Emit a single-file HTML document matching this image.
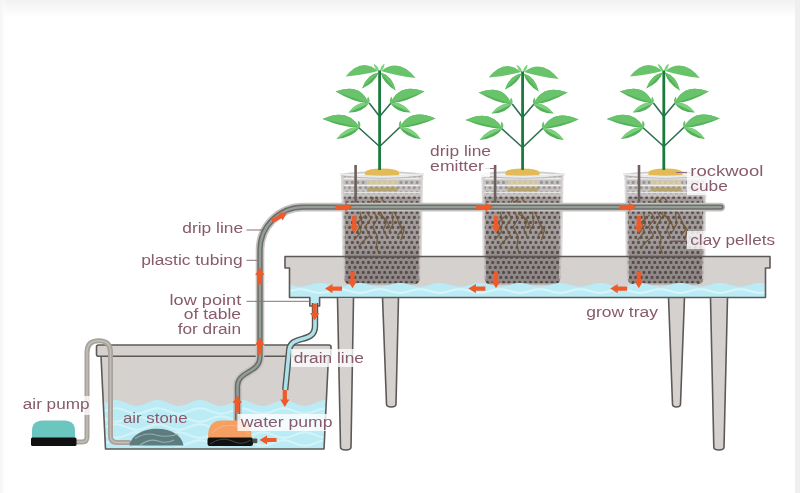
<!DOCTYPE html><html><head><meta charset="utf-8"><style>html,body{margin:0;padding:0;background:#fff;}svg{display:block;filter:blur(0.35px);}text{font-family:"Liberation Sans",sans-serif;font-size:15.5px;fill:#885a6d;}</style></head><body>
<svg width="800" height="493" viewBox="0 0 800 493">
<defs>
<linearGradient id="topg" x1="0" y1="0" x2="0" y2="1"><stop offset="0" stop-color="#f1f1f1"/><stop offset="1" stop-color="#ffffff"/></linearGradient>
<linearGradient id="leftg" x1="0" y1="0" x2="1" y2="0"><stop offset="0" stop-color="#f4f4f4"/><stop offset="1" stop-color="#ffffff" stop-opacity="0"/></linearGradient>
<pattern id="dots" x="0" y="0" width="5.4" height="10" patternUnits="userSpaceOnUse"><circle cx="1.3" cy="2.4" r="1.55" fill="#585050"/><circle cx="4.0" cy="7.4" r="1.55" fill="#585050"/></pattern>
<clipPath id="resclip"><path d="M101 356 L328.5 356 L324 449 L105.5 449 Z"/></clipPath>
<clipPath id="trayclip"><path d="M285 256.5 L770 256.5 L770 268 L765.5 268 L765.5 297.5 L289.5 297.5 L289.5 268 L285 268 Z"/></clipPath>
<linearGradient id="potshade" x1="0" y1="0" x2="0" y2="1"><stop offset="0" stop-color="#2a1e1c" stop-opacity="0"/><stop offset="0.4" stop-color="#2a1e1c" stop-opacity="0.12"/><stop offset="1" stop-color="#2a1e1c" stop-opacity="0.16"/></linearGradient>
</defs>
<rect x="0" y="0" width="800" height="493" fill="#fff"/>
<rect x="0" y="0" width="800" height="17" fill="url(#topg)"/>
<rect x="0" y="0" width="8" height="493" fill="url(#leftg)"/>
<rect x="795" y="0" width="5" height="493" fill="#efefef"/>
<path d="M382.5 297 L386.5 404 Q386.5 407 391.25 407 Q396 407 396 404 L398.5 297" fill="#d5d1ce" stroke="#5e5957" stroke-width="1.6"/>
<path d="M668.5 297 L672.5 404 Q672.5 407 676.5 407 Q680.5 407 680.5 404 L684.5 297" fill="#d5d1ce" stroke="#5e5957" stroke-width="1.6"/>
<path d="M285 256.5 L770 256.5 L770 268 L765.5 268 L765.5 297.5 L319.6 297.5 L319.6 306 L309.8 306 L309.8 297.5 L289.5 297.5 L289.5 268 L285 268 Z" fill="#d5d1ce"/>
<path d="M342.5 175 L421.5 175 L420 278 Q419.5 284.5 413 284.5 L351 284.5 Q344.5 284.5 344 278 Z" fill="#a29b99"/><path d="M342.5 175 L421.5 175 L420 278 Q419.5 284.5 413 284.5 L351 284.5 Q344.5 284.5 344 278 Z" fill="url(#dots)"/><path d="M344 240 L420 240 L420 278 Q419.5 284.5 413 284.5 L351 284.5 Q344.5 284.5 344 278 Z" fill="url(#potshade)"/><path d="M341 175 L423 175 L422 197 L342 197 Z" fill="#ffffff" opacity="0.38"/><rect x="367" y="180.5" width="31" height="5" fill="#d9cfa5" opacity="0.8"/><rect x="367" y="187.5" width="31" height="4" rx="1.5" fill="#b39f62" opacity="0.85"/><path d="M340.5 178.5 L423.5 178.5" stroke="#ececec" stroke-width="1.8"/><path d="M341 185.5 L423 185.5" stroke="#eeeeee" stroke-width="1.5"/><path d="M341.5 192.5 L422.5 192.5" stroke="#e6e6e6" stroke-width="1.3"/><path d="M343 256.8 L421 256.8" stroke="#4a4240" stroke-width="1.6"/><g stroke="#6e5535" stroke-width="1.35" fill="none" stroke-linejoin="round" opacity="0.85"><path d="M373.4 197.1 L366.3 211.3 L371.3 218.4 L364.9 226.9 L369.9 235.5 L362 242.6 L358.5 246.8"/><path d="M377.7 198.5 L373.4 211.3 L377.7 218.4 L372.7 226.9 L377.7 236.9 L376.3 246.8 L379.1 253.5"/><path d="M380.5 197.1 L387.6 207 L394.7 212.7 L399 222.7 L401.8 229.8 L397.6 235.5"/><path d="M382 204.2 L380.5 212.7 L386.2 222.7 L383.4 229.8 L387.6 238.3"/><path d="M369 202 L360 212 L362 224 L356 233"/><path d="M392 212 L393 224 L389 232"/><path d="M375 200 L382 206 L378 214 L386 219 L390 228"/><path d="M366 215 L358 222 L361 232 L354 240"/><path d="M398 222 L404 230 L401 240"/></g><path d="M342.5 176 L344 279" stroke="#d2cecd" stroke-width="3" opacity="0.75"/><path d="M421.5 176 L420 279" stroke="#d2cecd" stroke-width="3" opacity="0.75"/><path d="M350 284 L414 284" stroke="#c9c5c4" stroke-width="2" opacity="0.6"/><path d="M340 174.3 Q382.0 169.2 424 174.3" stroke="#cfcdcc" stroke-width="1.6" fill="#e4e3e3"/><path d="M365 176.5 L365 172 Q367 168.4 382 168.4 Q397 168.4 399 172 L399 176.5 Z" fill="#e2bb58"/><path d="M340 174.3 Q382.0 179.6 424 174.3" stroke="#ebebeb" stroke-width="2.6" fill="none"/><path d="M341 175.8 Q382.0 181 423 175.8" stroke="#b8b5b4" stroke-width="0.9" fill="none"/><rect x="354.3" y="165" width="2.6" height="42" fill="#6b605c"/>
<path d="M483.0 175 L562.0 175 L560.5 278 Q560.0 284.5 553.5 284.5 L491.5 284.5 Q485.0 284.5 484.5 278 Z" fill="#a29b99"/><path d="M483.0 175 L562.0 175 L560.5 278 Q560.0 284.5 553.5 284.5 L491.5 284.5 Q485.0 284.5 484.5 278 Z" fill="url(#dots)"/><path d="M484.5 240 L560.5 240 L560.5 278 Q560.0 284.5 553.5 284.5 L491.5 284.5 Q485.0 284.5 484.5 278 Z" fill="url(#potshade)"/><path d="M481.5 175 L563.5 175 L562.5 197 L482.5 197 Z" fill="#ffffff" opacity="0.38"/><rect x="507.5" y="180.5" width="31" height="5" fill="#d9cfa5" opacity="0.8"/><rect x="507.5" y="187.5" width="31" height="4" rx="1.5" fill="#b39f62" opacity="0.85"/><path d="M481.0 178.5 L564.0 178.5" stroke="#ececec" stroke-width="1.8"/><path d="M481.5 185.5 L563.5 185.5" stroke="#eeeeee" stroke-width="1.5"/><path d="M482.0 192.5 L563.0 192.5" stroke="#e6e6e6" stroke-width="1.3"/><path d="M483.5 256.8 L561.5 256.8" stroke="#4a4240" stroke-width="1.6"/><g stroke="#6e5535" stroke-width="1.35" fill="none" stroke-linejoin="round" opacity="0.85"><path d="M513.9 197.1 L506.8 211.3 L511.8 218.4 L505.4 226.9 L510.4 235.5 L502.5 242.6 L499 246.8"/><path d="M518.2 198.5 L513.9 211.3 L518.2 218.4 L513.2 226.9 L518.2 236.9 L516.8 246.8 L519.6 253.5"/><path d="M521 197.1 L528.1 207 L535.2 212.7 L539.5 222.7 L542.3 229.8 L538.1 235.5"/><path d="M522.5 204.2 L521 212.7 L526.7 222.7 L523.9 229.8 L528.1 238.3"/><path d="M509.5 202 L500.5 212 L502.5 224 L496.5 233"/><path d="M532.5 212 L533.5 224 L529.5 232"/><path d="M515.5 200 L522.5 206 L518.5 214 L526.5 219 L530.5 228"/><path d="M506.5 215 L498.5 222 L501.5 232 L494.5 240"/><path d="M538.5 222 L544.5 230 L541.5 240"/></g><path d="M483.0 176 L484.5 279" stroke="#d2cecd" stroke-width="3" opacity="0.75"/><path d="M562.0 176 L560.5 279" stroke="#d2cecd" stroke-width="3" opacity="0.75"/><path d="M490.5 284 L554.5 284" stroke="#c9c5c4" stroke-width="2" opacity="0.6"/><path d="M480.5 174.3 Q522.5 169.2 564.5 174.3" stroke="#cfcdcc" stroke-width="1.6" fill="#e4e3e3"/><path d="M505.5 176.5 L505.5 172 Q507.5 168.4 522.5 168.4 Q537.5 168.4 539.5 172 L539.5 176.5 Z" fill="#e2bb58"/><path d="M480.5 174.3 Q522.5 179.6 564.5 174.3" stroke="#ebebeb" stroke-width="2.6" fill="none"/><path d="M481.5 175.8 Q522.5 181 563.5 175.8" stroke="#b8b5b4" stroke-width="0.9" fill="none"/><rect x="493.8" y="165" width="2.6" height="42" fill="#6b605c"/>
<path d="M626.0 175 L705.0 175 L703.5 278 Q703.0 284.5 696.5 284.5 L634.5 284.5 Q628.0 284.5 627.5 278 Z" fill="#a29b99"/><path d="M626.0 175 L705.0 175 L703.5 278 Q703.0 284.5 696.5 284.5 L634.5 284.5 Q628.0 284.5 627.5 278 Z" fill="url(#dots)"/><path d="M627.5 240 L703.5 240 L703.5 278 Q703.0 284.5 696.5 284.5 L634.5 284.5 Q628.0 284.5 627.5 278 Z" fill="url(#potshade)"/><path d="M624.5 175 L706.5 175 L705.5 197 L625.5 197 Z" fill="#ffffff" opacity="0.38"/><rect x="650.5" y="180.5" width="31" height="5" fill="#d9cfa5" opacity="0.8"/><rect x="650.5" y="187.5" width="31" height="4" rx="1.5" fill="#b39f62" opacity="0.85"/><path d="M624.0 178.5 L707.0 178.5" stroke="#ececec" stroke-width="1.8"/><path d="M624.5 185.5 L706.5 185.5" stroke="#eeeeee" stroke-width="1.5"/><path d="M625.0 192.5 L706.0 192.5" stroke="#e6e6e6" stroke-width="1.3"/><path d="M626.5 256.8 L704.5 256.8" stroke="#4a4240" stroke-width="1.6"/><g stroke="#6e5535" stroke-width="1.35" fill="none" stroke-linejoin="round" opacity="0.85"><path d="M656.9 197.1 L649.8 211.3 L654.8 218.4 L648.4 226.9 L653.4 235.5 L645.5 242.6 L642 246.8"/><path d="M661.2 198.5 L656.9 211.3 L661.2 218.4 L656.2 226.9 L661.2 236.9 L659.8 246.8 L662.6 253.5"/><path d="M664 197.1 L671.1 207 L678.2 212.7 L682.5 222.7 L685.3 229.8 L681.1 235.5"/><path d="M665.5 204.2 L664 212.7 L669.7 222.7 L666.9 229.8 L671.1 238.3"/><path d="M652.5 202 L643.5 212 L645.5 224 L639.5 233"/><path d="M675.5 212 L676.5 224 L672.5 232"/><path d="M658.5 200 L665.5 206 L661.5 214 L669.5 219 L673.5 228"/><path d="M649.5 215 L641.5 222 L644.5 232 L637.5 240"/><path d="M681.5 222 L687.5 230 L684.5 240"/></g><path d="M626.0 176 L627.5 279" stroke="#d2cecd" stroke-width="3" opacity="0.75"/><path d="M705.0 176 L703.5 279" stroke="#d2cecd" stroke-width="3" opacity="0.75"/><path d="M633.5 284 L697.5 284" stroke="#c9c5c4" stroke-width="2" opacity="0.6"/><path d="M623.5 174.3 Q665.5 169.2 707.5 174.3" stroke="#cfcdcc" stroke-width="1.6" fill="#e4e3e3"/><path d="M648.5 176.5 L648.5 172 Q650.5 168.4 665.5 168.4 Q680.5 168.4 682.5 172 L682.5 176.5 Z" fill="#e2bb58"/><path d="M623.5 174.3 Q665.5 179.6 707.5 174.3" stroke="#ebebeb" stroke-width="2.6" fill="none"/><path d="M624.5 175.8 Q665.5 181 706.5 175.8" stroke="#b8b5b4" stroke-width="0.9" fill="none"/><rect x="637.7" y="165" width="2.6" height="42" fill="#6b605c"/>
<g clip-path="url(#trayclip)">
<path d="M285 283.53 L287 283.98 L288.99 284.52 L290.99 285.08 L292.98 285.61 L294.98 286.07 L296.98 286.4 L298.97 286.58 L300.97 286.58 L302.96 286.41 L304.96 286.08 L306.95 285.63 L308.95 285.1 L310.95 284.53 L312.94 284 L314.94 283.54 L316.93 283.2 L318.93 283.03 L320.93 283.02 L322.92 283.19 L324.92 283.51 L326.91 283.96 L328.91 284.49 L330.91 285.06 L332.9 285.59 L334.9 286.05 L336.89 286.39 L338.89 286.57 L340.88 286.58 L342.88 286.42 L344.88 286.1 L346.87 285.65 L348.87 285.12 L350.86 284.56 L352.86 284.02 L354.86 283.56 L356.85 283.22 L358.85 283.03 L360.84 283.02 L362.84 283.18 L364.84 283.49 L366.83 283.94 L368.83 284.47 L370.82 285.03 L372.82 285.57 L374.81 286.04 L376.81 286.38 L378.81 286.57 L380.8 286.59 L382.8 286.43 L384.79 286.11 L386.79 285.67 L388.79 285.14 L390.78 284.58 L392.78 284.04 L394.77 283.57 L396.77 283.23 L398.77 283.03 L400.76 283.01 L402.76 283.17 L404.75 283.48 L406.75 283.92 L408.74 284.45 L410.74 285.01 L412.74 285.55 L414.73 286.02 L416.73 286.37 L418.72 286.56 L420.72 286.59 L422.72 286.44 L424.71 286.13 L426.71 285.69 L428.7 285.16 L430.7 284.6 L432.7 284.06 L434.69 283.59 L436.69 283.24 L438.68 283.04 L440.68 283.01 L442.67 283.16 L444.67 283.46 L446.67 283.9 L448.66 284.42 L450.66 284.99 L452.65 285.53 L454.65 286 L456.65 286.36 L458.64 286.56 L460.64 286.59 L462.63 286.45 L464.63 286.14 L466.63 285.71 L468.62 285.19 L470.62 284.63 L472.61 284.08 L474.61 283.61 L476.6 283.25 L478.6 283.04 L480.6 283.01 L482.59 283.15 L484.59 283.45 L486.58 283.88 L488.58 284.4 L490.58 284.96 L492.57 285.51 L494.57 285.98 L496.56 286.34 L498.56 286.55 L500.56 286.59 L502.55 286.46 L504.55 286.16 L506.54 285.73 L508.54 285.21 L510.53 284.65 L512.53 284.1 L514.53 283.63 L516.52 283.26 L518.52 283.05 L520.51 283.01 L522.51 283.14 L524.51 283.43 L526.5 283.86 L528.5 284.38 L530.49 284.94 L532.49 285.49 L534.49 285.97 L536.48 286.33 L538.48 286.55 L540.47 286.6 L542.47 286.47 L544.47 286.18 L546.46 285.75 L548.46 285.23 L550.45 284.67 L552.45 284.12 L554.44 283.64 L556.44 283.27 L558.44 283.05 L560.43 283 L562.43 283.13 L564.42 283.42 L566.42 283.84 L568.42 284.36 L570.41 284.92 L572.41 285.46 L574.4 285.95 L576.4 286.32 L578.4 286.54 L580.39 286.6 L582.39 286.47 L584.38 286.19 L586.38 285.77 L588.37 285.25 L590.37 284.7 L592.37 284.15 L594.36 283.66 L596.36 283.29 L598.35 283.06 L600.35 283 L602.35 283.12 L604.34 283.4 L606.34 283.82 L608.33 284.33 L610.33 284.89 L612.33 285.44 L614.32 285.93 L616.32 286.31 L618.31 286.54 L620.31 286.6 L622.3 286.48 L624.3 286.2 L626.3 285.79 L628.29 285.28 L630.29 284.72 L632.28 284.17 L634.28 283.68 L636.28 283.3 L638.27 283.07 L640.27 283 L642.26 283.11 L644.26 283.39 L646.26 283.8 L648.25 284.31 L650.25 284.87 L652.24 285.42 L654.24 285.91 L656.23 286.29 L658.23 286.53 L660.23 286.6 L662.22 286.49 L664.22 286.22 L666.21 285.81 L668.21 285.3 L670.21 284.74 L672.2 284.19 L674.2 283.7 L676.19 283.31 L678.19 283.07 L680.19 283 L682.18 283.1 L684.18 283.37 L686.17 283.78 L688.17 284.29 L690.16 284.85 L692.16 285.4 L694.16 285.89 L696.15 286.28 L698.15 286.52 L700.14 286.6 L702.14 286.5 L704.14 286.23 L706.13 285.83 L708.13 285.32 L710.12 284.77 L712.12 284.21 L714.12 283.72 L716.11 283.33 L718.11 283.08 L720.1 283 L722.1 283.1 L724.09 283.36 L726.09 283.76 L728.09 284.27 L730.08 284.82 L732.08 285.38 L734.07 285.87 L736.07 286.27 L738.07 286.52 L740.06 286.6 L742.06 286.51 L744.05 286.25 L746.05 285.85 L748.05 285.34 L750.04 284.79 L752.04 284.23 L754.03 283.73 L756.03 283.34 L758.02 283.09 L760.02 283 L762.02 283.09 L764.01 283.35 L766.01 283.74 L768 284.24 L770 284.8 L770 298 L285 298 Z" fill="#bbecf5"/>
<path d="M285 292.27 L287 291.82 L288.99 291.28 L290.99 290.72 L292.98 290.19 L294.98 289.73 L296.98 289.4 L298.97 289.22 L300.97 289.22 L302.96 289.39 L304.96 289.72 L306.95 290.17 L308.95 290.7 L310.95 291.27 L312.94 291.8 L314.94 292.26 L316.93 292.6 L318.93 292.77 L320.93 292.78 L322.92 292.61 L324.92 292.29 L326.91 291.84 L328.91 291.31 L330.91 290.74 L332.9 290.21 L334.9 289.75 L336.89 289.41 L338.89 289.23 L340.88 289.22 L342.88 289.38 L344.88 289.7 L346.87 290.15 L348.87 290.68 L350.86 291.24 L352.86 291.78 L354.86 292.24 L356.85 292.58 L358.85 292.77 L360.84 292.78 L362.84 292.62 L364.84 292.31 L366.83 291.86 L368.83 291.33 L370.82 290.77 L372.82 290.23 L374.81 289.76 L376.81 289.42 L378.81 289.23 L380.8 289.21 L382.8 289.37 L384.79 289.69 L386.79 290.13 L388.79 290.66 L390.78 291.22 L392.78 291.76 L394.77 292.23 L396.77 292.57 L398.77 292.77 L400.76 292.79 L402.76 292.63 L404.75 292.32 L406.75 291.88 L408.74 291.35 L410.74 290.79 L412.74 290.25 L414.73 289.78 L416.73 289.43 L418.72 289.24 L420.72 289.21 L422.72 289.36 L424.71 289.67 L426.71 290.11 L428.7 290.64 L430.7 291.2 L432.7 291.74 L434.69 292.21 L436.69 292.56 L438.68 292.76 L440.68 292.79 L442.67 292.64 L444.67 292.34 L446.67 291.9 L448.66 291.38 L450.66 290.81 L452.65 290.27 L454.65 289.8 L456.65 289.44 L458.64 289.24 L460.64 289.21 L462.63 289.35 L464.63 289.66 L466.63 290.09 L468.62 290.61 L470.62 291.17 L472.61 291.72 L474.61 292.19 L476.6 292.55 L478.6 292.76 L480.6 292.79 L482.59 292.65 L484.59 292.35 L486.58 291.92 L488.58 291.4 L490.58 290.84 L492.57 290.29 L494.57 289.82 L496.56 289.46 L498.56 289.25 L500.56 289.21 L502.55 289.34 L504.55 289.64 L506.54 290.07 L508.54 290.59 L510.53 291.15 L512.53 291.7 L514.53 292.17 L516.52 292.54 L518.52 292.75 L520.51 292.79 L522.51 292.66 L524.51 292.37 L526.5 291.94 L528.5 291.42 L530.49 290.86 L532.49 290.31 L534.49 289.83 L536.48 289.47 L538.48 289.25 L540.47 289.2 L542.47 289.33 L544.47 289.62 L546.46 290.05 L548.46 290.57 L550.45 291.13 L552.45 291.68 L554.44 292.16 L556.44 292.53 L558.44 292.75 L560.43 292.8 L562.43 292.67 L564.42 292.38 L566.42 291.96 L568.42 291.44 L570.41 290.88 L572.41 290.34 L574.4 289.85 L576.4 289.48 L578.4 289.26 L580.39 289.2 L582.39 289.33 L584.38 289.61 L586.38 290.03 L588.37 290.55 L590.37 291.1 L592.37 291.65 L594.36 292.14 L596.36 292.51 L598.35 292.74 L600.35 292.8 L602.35 292.68 L604.34 292.4 L606.34 291.98 L608.33 291.47 L610.33 290.91 L612.33 290.36 L614.32 289.87 L616.32 289.49 L618.31 289.26 L620.31 289.2 L622.3 289.32 L624.3 289.6 L626.3 290.01 L628.29 290.52 L630.29 291.08 L632.28 291.63 L634.28 292.12 L636.28 292.5 L638.27 292.73 L640.27 292.8 L642.26 292.69 L644.26 292.41 L646.26 292 L648.25 291.49 L650.25 290.93 L652.24 290.38 L654.24 289.89 L656.23 289.51 L658.23 289.27 L660.23 289.2 L662.22 289.31 L664.22 289.58 L666.21 289.99 L668.21 290.5 L670.21 291.06 L672.2 291.61 L674.2 292.1 L676.19 292.49 L678.19 292.73 L680.19 292.8 L682.18 292.7 L684.18 292.43 L686.17 292.02 L688.17 291.51 L690.16 290.95 L692.16 290.4 L694.16 289.91 L696.15 289.52 L698.15 289.28 L700.14 289.2 L702.14 289.3 L704.14 289.57 L706.13 289.97 L708.13 290.48 L710.12 291.03 L712.12 291.59 L714.12 292.08 L716.11 292.47 L718.11 292.72 L720.1 292.8 L722.1 292.7 L724.09 292.44 L726.09 292.04 L728.09 291.53 L730.08 290.98 L732.08 290.42 L734.07 289.93 L736.07 289.53 L738.07 289.28 L740.06 289.2 L742.06 289.29 L744.05 289.55 L746.05 289.95 L748.05 290.46 L750.04 291.01 L752.04 291.57 L754.03 292.07 L756.03 292.46 L758.02 292.71 L760.02 292.8 L762.02 292.71 L764.01 292.45 L766.01 292.06 L768 291.56 L770 291" stroke="#d8f6fa" stroke-width="2" fill="none"/>
</g>
<rect x="310.5" y="297" width="8.5" height="8.5" fill="#bbecf5"/>
<path d="M285 256.5 L770 256.5 L770 268 L765.5 268 L765.5 297.5 L319.6 297.5 L319.6 306 L309.8 306 L309.8 297.5 L289.5 297.5 L289.5 268 L285 268 Z" fill="none" stroke="#5e5957" stroke-width="1.6" stroke-linejoin="round"/>
<path d="M337.5 298 L340.5 447 Q340.5 450 345.75 450 Q351 450 351 447 L353.5 298" fill="#d5d1ce" stroke="#5e5957" stroke-width="1.6"/>
<path d="M710.5 298 L713.8 447 Q713.8 450 718.9 450 Q724 450 724 447 L727.5 298" fill="#d5d1ce" stroke="#5e5957" stroke-width="1.6"/>
<path d="M101 356 L328.5 356 L324 449 L105.5 449 Z" fill="#d5d1ce"/>
<g clip-path="url(#resclip)">
<path d="M100 405.14 L101.98 404.43 L103.97 403.59 L105.95 402.71 L107.93 401.85 L109.91 401.09 L111.9 400.5 L113.88 400.12 L115.86 400 L117.84 400.14 L119.83 400.53 L121.81 401.13 L123.79 401.9 L125.78 402.77 L127.76 403.65 L129.74 404.48 L131.72 405.18 L133.71 405.68 L135.69 405.96 L137.67 405.97 L139.66 405.73 L141.64 405.25 L143.62 404.57 L145.6 403.75 L147.59 402.87 L149.57 402 L151.55 401.22 L153.53 400.59 L155.52 400.17 L157.5 400 L159.48 400.09 L161.47 400.44 L163.45 401.01 L165.43 401.75 L167.41 402.6 L169.4 403.49 L171.38 404.33 L173.36 405.06 L175.34 405.61 L177.33 405.93 L179.31 405.99 L181.29 405.79 L183.28 405.35 L185.26 404.71 L187.24 403.91 L189.22 403.03 L191.21 402.16 L193.19 401.35 L195.17 400.69 L197.16 400.23 L199.14 400.01 L201.12 400.06 L203.1 400.36 L205.09 400.89 L207.07 401.61 L209.05 402.44 L211.03 403.33 L213.02 404.19 L215 404.94 L216.98 405.52 L218.97 405.89 L220.95 406 L222.93 405.85 L224.91 405.45 L226.9 404.84 L228.88 404.06 L230.86 403.2 L232.84 402.31 L234.83 401.49 L236.81 400.8 L238.79 400.3 L240.78 400.04 L242.76 400.03 L244.74 400.29 L246.72 400.78 L248.71 401.46 L250.69 402.28 L252.67 403.17 L254.66 404.04 L256.64 404.81 L258.62 405.43 L260.6 405.84 L262.59 406 L264.57 405.9 L266.55 405.54 L268.53 404.96 L270.52 404.21 L272.5 403.36 L274.48 402.47 L276.47 401.63 L278.45 400.91 L280.43 400.37 L282.41 400.06 L284.4 400.01 L286.38 400.22 L288.36 400.67 L290.34 401.33 L292.33 402.13 L294.31 403 L296.29 403.88 L298.28 404.68 L300.26 405.33 L302.24 405.78 L304.22 405.99 L306.21 405.93 L308.19 405.62 L310.17 405.08 L312.16 404.36 L314.14 403.52 L316.12 402.63 L318.1 401.78 L320.09 401.03 L322.07 400.46 L324.05 400.1 L326.03 400 L328.02 400.16 L330 400.57 L330 450 L100 450 Z" fill="#bbecf5"/>
<path d="M100 412.85 L101.98 412.24 L103.97 411.52 L105.95 410.75 L107.93 410 L109.91 409.34 L111.9 408.83 L113.88 408.51 L115.86 408.4 L117.84 408.52 L119.83 408.86 L121.81 409.38 L123.79 410.05 L125.78 410.8 L127.76 411.56 L129.74 412.28 L131.72 412.89 L133.71 413.33 L135.69 413.56 L137.67 413.58 L139.66 413.37 L141.64 412.95 L143.62 412.36 L145.6 411.65 L147.59 410.89 L149.57 410.13 L151.55 409.46 L153.53 408.91 L155.52 408.55 L157.5 408.4 L159.48 408.48 L161.47 408.78 L163.45 409.27 L165.43 409.92 L167.41 410.66 L169.4 411.42 L171.38 412.16 L173.36 412.79 L175.34 413.26 L177.33 413.54 L179.31 413.59 L181.29 413.42 L183.28 413.04 L185.26 412.48 L187.24 411.79 L189.22 411.03 L191.21 410.27 L193.19 409.57 L195.17 409 L197.16 408.6 L199.14 408.41 L201.12 408.45 L203.1 408.71 L205.09 409.17 L207.07 409.79 L209.05 410.52 L211.03 411.29 L213.02 412.03 L215 412.68 L216.98 413.19 L218.97 413.5 L220.95 413.6 L222.93 413.47 L224.91 413.12 L226.9 412.59 L228.88 411.92 L230.86 411.17 L232.84 410.4 L234.83 409.69 L236.81 409.09 L238.79 408.66 L240.78 408.43 L242.76 408.43 L244.74 408.65 L246.72 409.07 L248.71 409.67 L250.69 410.38 L252.67 411.14 L254.66 411.9 L256.64 412.57 L258.62 413.11 L260.6 413.46 L262.59 413.6 L264.57 413.51 L266.55 413.2 L268.53 412.7 L270.52 412.05 L272.5 411.31 L274.48 410.54 L276.47 409.81 L278.45 409.19 L280.43 408.72 L282.41 408.46 L284.4 408.41 L286.38 408.59 L288.36 408.98 L290.34 409.55 L292.33 410.24 L294.31 411 L296.29 411.76 L298.28 412.46 L300.26 413.02 L302.24 413.41 L304.22 413.59 L306.21 413.54 L308.19 413.27 L310.17 412.8 L312.16 412.18 L314.14 411.45 L316.12 410.68 L318.1 409.94 L320.09 409.29 L322.07 408.79 L324.05 408.49 L326.03 408.4 L328.02 408.54 L330 408.9" stroke="#d8f6fa" stroke-width="2.2" fill="none" stroke-opacity="0.75"/>
<path d="M100 417.15 L101.98 417.76 L103.97 418.48 L105.95 419.25 L107.93 420 L109.91 420.66 L111.9 421.17 L113.88 421.49 L115.86 421.6 L117.84 421.48 L119.83 421.14 L121.81 420.62 L123.79 419.95 L125.78 419.2 L127.76 418.44 L129.74 417.72 L131.72 417.11 L133.71 416.67 L135.69 416.44 L137.67 416.42 L139.66 416.63 L141.64 417.05 L143.62 417.64 L145.6 418.35 L147.59 419.11 L149.57 419.87 L151.55 420.54 L153.53 421.09 L155.52 421.45 L157.5 421.6 L159.48 421.52 L161.47 421.22 L163.45 420.73 L165.43 420.08 L167.41 419.34 L169.4 418.58 L171.38 417.84 L173.36 417.21 L175.34 416.74 L177.33 416.46 L179.31 416.41 L181.29 416.58 L183.28 416.96 L185.26 417.52 L187.24 418.21 L189.22 418.97 L191.21 419.73 L193.19 420.43 L195.17 421 L197.16 421.4 L199.14 421.59 L201.12 421.55 L203.1 421.29 L205.09 420.83 L207.07 420.21 L209.05 419.48 L211.03 418.71 L213.02 417.97 L215 417.32 L216.98 416.81 L218.97 416.5 L220.95 416.4 L222.93 416.53 L224.91 416.88 L226.9 417.41 L228.88 418.08 L230.86 418.83 L232.84 419.6 L234.83 420.31 L236.81 420.91 L238.79 421.34 L240.78 421.57 L242.76 421.57 L244.74 421.35 L246.72 420.93 L248.71 420.33 L250.69 419.62 L252.67 418.86 L254.66 418.1 L256.64 417.43 L258.62 416.89 L260.6 416.54 L262.59 416.4 L264.57 416.49 L266.55 416.8 L268.53 417.3 L270.52 417.95 L272.5 418.69 L274.48 419.46 L276.47 420.19 L278.45 420.81 L280.43 421.28 L282.41 421.54 L284.4 421.59 L286.38 421.41 L288.36 421.02 L290.34 420.45 L292.33 419.76 L294.31 419 L296.29 418.24 L298.28 417.54 L300.26 416.98 L302.24 416.59 L304.22 416.41 L306.21 416.46 L308.19 416.73 L310.17 417.2 L312.16 417.82 L314.14 418.55 L316.12 419.32 L318.1 420.06 L320.09 420.71 L322.07 421.21 L324.05 421.51 L326.03 421.6 L328.02 421.46 L330 421.1" stroke="#d8f6fa" stroke-width="2.2" fill="none" stroke-opacity="0.75"/>
<path d="M100 428.85 L101.98 428.24 L103.97 427.52 L105.95 426.75 L107.93 426 L109.91 425.34 L111.9 424.83 L113.88 424.51 L115.86 424.4 L117.84 424.52 L119.83 424.86 L121.81 425.38 L123.79 426.05 L125.78 426.8 L127.76 427.56 L129.74 428.28 L131.72 428.89 L133.71 429.33 L135.69 429.56 L137.67 429.58 L139.66 429.37 L141.64 428.95 L143.62 428.36 L145.6 427.65 L147.59 426.89 L149.57 426.13 L151.55 425.46 L153.53 424.91 L155.52 424.55 L157.5 424.4 L159.48 424.48 L161.47 424.78 L163.45 425.27 L165.43 425.92 L167.41 426.66 L169.4 427.42 L171.38 428.16 L173.36 428.79 L175.34 429.26 L177.33 429.54 L179.31 429.59 L181.29 429.42 L183.28 429.04 L185.26 428.48 L187.24 427.79 L189.22 427.03 L191.21 426.27 L193.19 425.57 L195.17 425 L197.16 424.6 L199.14 424.41 L201.12 424.45 L203.1 424.71 L205.09 425.17 L207.07 425.79 L209.05 426.52 L211.03 427.29 L213.02 428.03 L215 428.68 L216.98 429.19 L218.97 429.5 L220.95 429.6 L222.93 429.47 L224.91 429.12 L226.9 428.59 L228.88 427.92 L230.86 427.17 L232.84 426.4 L234.83 425.69 L236.81 425.09 L238.79 424.66 L240.78 424.43 L242.76 424.43 L244.74 424.65 L246.72 425.07 L248.71 425.67 L250.69 426.38 L252.67 427.14 L254.66 427.9 L256.64 428.57 L258.62 429.11 L260.6 429.46 L262.59 429.6 L264.57 429.51 L266.55 429.2 L268.53 428.7 L270.52 428.05 L272.5 427.31 L274.48 426.54 L276.47 425.81 L278.45 425.19 L280.43 424.72 L282.41 424.46 L284.4 424.41 L286.38 424.59 L288.36 424.98 L290.34 425.55 L292.33 426.24 L294.31 427 L296.29 427.76 L298.28 428.46 L300.26 429.02 L302.24 429.41 L304.22 429.59 L306.21 429.54 L308.19 429.27 L310.17 428.8 L312.16 428.18 L314.14 427.45 L316.12 426.68 L318.1 425.94 L320.09 425.29 L322.07 424.79 L324.05 424.49 L326.03 424.4 L328.02 424.54 L330 424.9" stroke="#d8f6fa" stroke-width="2.2" fill="none" stroke-opacity="0.75"/>
<path d="M100 433.15 L101.98 433.76 L103.97 434.48 L105.95 435.25 L107.93 436 L109.91 436.66 L111.9 437.17 L113.88 437.49 L115.86 437.6 L117.84 437.48 L119.83 437.14 L121.81 436.62 L123.79 435.95 L125.78 435.2 L127.76 434.44 L129.74 433.72 L131.72 433.11 L133.71 432.67 L135.69 432.44 L137.67 432.42 L139.66 432.63 L141.64 433.05 L143.62 433.64 L145.6 434.35 L147.59 435.11 L149.57 435.87 L151.55 436.54 L153.53 437.09 L155.52 437.45 L157.5 437.6 L159.48 437.52 L161.47 437.22 L163.45 436.73 L165.43 436.08 L167.41 435.34 L169.4 434.58 L171.38 433.84 L173.36 433.21 L175.34 432.74 L177.33 432.46 L179.31 432.41 L181.29 432.58 L183.28 432.96 L185.26 433.52 L187.24 434.21 L189.22 434.97 L191.21 435.73 L193.19 436.43 L195.17 437 L197.16 437.4 L199.14 437.59 L201.12 437.55 L203.1 437.29 L205.09 436.83 L207.07 436.21 L209.05 435.48 L211.03 434.71 L213.02 433.97 L215 433.32 L216.98 432.81 L218.97 432.5 L220.95 432.4 L222.93 432.53 L224.91 432.88 L226.9 433.41 L228.88 434.08 L230.86 434.83 L232.84 435.6 L234.83 436.31 L236.81 436.91 L238.79 437.34 L240.78 437.57 L242.76 437.57 L244.74 437.35 L246.72 436.93 L248.71 436.33 L250.69 435.62 L252.67 434.86 L254.66 434.1 L256.64 433.43 L258.62 432.89 L260.6 432.54 L262.59 432.4 L264.57 432.49 L266.55 432.8 L268.53 433.3 L270.52 433.95 L272.5 434.69 L274.48 435.46 L276.47 436.19 L278.45 436.81 L280.43 437.28 L282.41 437.54 L284.4 437.59 L286.38 437.41 L288.36 437.02 L290.34 436.45 L292.33 435.76 L294.31 435 L296.29 434.24 L298.28 433.54 L300.26 432.98 L302.24 432.59 L304.22 432.41 L306.21 432.46 L308.19 432.73 L310.17 433.2 L312.16 433.82 L314.14 434.55 L316.12 435.32 L318.1 436.06 L320.09 436.71 L322.07 437.21 L324.05 437.51 L326.03 437.6 L328.02 437.46 L330 437.1" stroke="#d8f6fa" stroke-width="2.2" fill="none" stroke-opacity="0.75"/>
<path d="M100 444.85 L101.98 444.24 L103.97 443.52 L105.95 442.75 L107.93 442 L109.91 441.34 L111.9 440.83 L113.88 440.51 L115.86 440.4 L117.84 440.52 L119.83 440.86 L121.81 441.38 L123.79 442.05 L125.78 442.8 L127.76 443.56 L129.74 444.28 L131.72 444.89 L133.71 445.33 L135.69 445.56 L137.67 445.58 L139.66 445.37 L141.64 444.95 L143.62 444.36 L145.6 443.65 L147.59 442.89 L149.57 442.13 L151.55 441.46 L153.53 440.91 L155.52 440.55 L157.5 440.4 L159.48 440.48 L161.47 440.78 L163.45 441.27 L165.43 441.92 L167.41 442.66 L169.4 443.42 L171.38 444.16 L173.36 444.79 L175.34 445.26 L177.33 445.54 L179.31 445.59 L181.29 445.42 L183.28 445.04 L185.26 444.48 L187.24 443.79 L189.22 443.03 L191.21 442.27 L193.19 441.57 L195.17 441 L197.16 440.6 L199.14 440.41 L201.12 440.45 L203.1 440.71 L205.09 441.17 L207.07 441.79 L209.05 442.52 L211.03 443.29 L213.02 444.03 L215 444.68 L216.98 445.19 L218.97 445.5 L220.95 445.6 L222.93 445.47 L224.91 445.12 L226.9 444.59 L228.88 443.92 L230.86 443.17 L232.84 442.4 L234.83 441.69 L236.81 441.09 L238.79 440.66 L240.78 440.43 L242.76 440.43 L244.74 440.65 L246.72 441.07 L248.71 441.67 L250.69 442.38 L252.67 443.14 L254.66 443.9 L256.64 444.57 L258.62 445.11 L260.6 445.46 L262.59 445.6 L264.57 445.51 L266.55 445.2 L268.53 444.7 L270.52 444.05 L272.5 443.31 L274.48 442.54 L276.47 441.81 L278.45 441.19 L280.43 440.72 L282.41 440.46 L284.4 440.41 L286.38 440.59 L288.36 440.98 L290.34 441.55 L292.33 442.24 L294.31 443 L296.29 443.76 L298.28 444.46 L300.26 445.02 L302.24 445.41 L304.22 445.59 L306.21 445.54 L308.19 445.27 L310.17 444.8 L312.16 444.18 L314.14 443.45 L316.12 442.68 L318.1 441.94 L320.09 441.29 L322.07 440.79 L324.05 440.49 L326.03 440.4 L328.02 440.54 L330 440.9" stroke="#d8f6fa" stroke-width="2.2" fill="none" stroke-opacity="0.75"/>
</g>
<path d="M101 356 L328.5 356 L324 449 L105.5 449 Z" fill="none" stroke="#5e5957" stroke-width="1.6" stroke-linejoin="round"/>
<rect x="96.5" y="345" width="234.5" height="11.3" rx="2" fill="#d5d1ce" stroke="#5e5957" stroke-width="1.6"/>
<path d="M76 442 L82 442 Q87 442 87 437 L87 352.5 Q87 340.8 98.8 340.8 Q110.5 340.8 110.5 352.5 L110.5 436 Q110.5 442.5 117 442.5 L129 442.5" stroke="#a8a39c" stroke-width="5" fill="none" stroke-linecap="round"/>
<path d="M76 442 L82 442 Q87 442 87 437 L87 352.5 Q87 340.8 98.8 340.8 Q110.5 340.8 110.5 352.5 L110.5 436 Q110.5 442.5 117 442.5 L129 442.5" stroke="#d6d2cb" stroke-width="1.5" fill="none" opacity="0.6"/>
<path d="M32 438 L32 431 C32 423 36 420.5 45 420.5 L62 420.5 C71 420.5 75 423 75 431 L75 438 Z" fill="#6cc6c0"/>
<rect x="31" y="437.5" width="45.5" height="8.5" rx="1.5" fill="#111"/>
<path d="M129.5 445.5 C131 436 142 428.8 157 428.8 C172 428.8 182 436 183.5 445.5 Z" fill="#5e7c7d"/>
<path d="M135 438.5 Q146 432 156 435 Q167 438 178 434" stroke="#93b1b0" stroke-width="1.1" fill="none"/>
<path d="M140 445 Q150 438 158 441 Q166 444 174 440" stroke="#93b1b0" stroke-width="1.1" fill="none"/>
<path d="M237.5 420 L237.5 386 C237.5 371 260 373 260 357 L260 250 A43 43 0 0 1 303 207.1 L721 207.1" stroke="#c6c2c0" stroke-width="8.6" fill="none" stroke-linecap="round"/>
<path d="M237.5 420 L237.5 386 C237.5 371 260 373 260 357 L260 250 A43 43 0 0 1 303 207.1 L721 207.1" stroke="#6a6e6a" stroke-width="5.4" fill="none" stroke-linecap="round"/>
<path d="M237.5 420 L237.5 386 C237.5 371 260 373 260 357 L260 250 A43 43 0 0 1 303 207.1 L721 207.1" stroke="#959d98" stroke-width="2.4" fill="none" stroke-linecap="round"/>
<path d="M315 303 L315 326 C315 345 289 333 289 352 L285.2 390" stroke="#535654" stroke-width="6.4" fill="none"/>
<path d="M315 303 L315 326 C315 345 289 333 289 352 L285.2 390" stroke="#ace2ea" stroke-width="3.6" fill="none"/>
<path d="M208 438 C208 428 210.5 420.5 222 420.5 L240 420.5 C248.5 420.5 251.5 428 251.8 438 Z" fill="#f5a062"/>
<path d="M212 433 Q222 423 236 426 Q244 428 249 434" stroke="#f8b27a" stroke-width="1.1" fill="none"/>
<rect x="207.5" y="437.6" width="45.5" height="8.3" rx="2.2" fill="#121212"/>
<rect x="252.5" y="438.6" width="4.8" height="4.6" rx="1" fill="#4d5352"/>
<path d="M210 444 Q222 436 232 441 Q242 446 251 440" stroke="#4a4a4a" stroke-width="0.9" fill="none"/>
<g stroke="#8d6f7a" stroke-width="1" fill="none">
<path d="M246.5 230 L262 230"/>
<path d="M246.5 260.3 L257 260.3"/>
<path d="M246.5 301.3 L310 301.3"/>
<path d="M485 168.5 L495 168.5"/>
<path d="M676 172.5 L690 172.5"/>
<path d="M671 241.3 L689 241.3" stroke="#7a4c60" stroke-width="1.3"/>
</g>
<g fill="#ffffff" opacity="0.8">
<rect x="291" y="349" width="75" height="18"/>
<rect x="20" y="396" width="72" height="19"/>
<rect x="428" y="141" width="62" height="36"/>
<rect x="237.5" y="414" width="95" height="17"/>
<rect x="687" y="163" width="80" height="32"/>
<rect x="687" y="231" width="92" height="18"/>
</g>
<path d="M271.07 219.36 L279.34 214.68 L278.11 212.5 L286.9 212.81 L282.64 220.51 L281.4 218.34 L273.14 223.01 Z" fill="#ee5a2a"/>
<path d="M335.5 204.9 L345 204.9 L345 202.4 L352.5 207 L345 211.6 L345 209.1 L335.5 209.1 Z" fill="#ee5a2a"/>
<path d="M356.3 216.1 L356.3 225.6 L358.8 225.6 L354.2 233.1 L349.6 225.6 L352.1 225.6 L352.1 216.1 Z" fill="#ee5a2a"/>
<path d="M354.6 271.2 L354.6 280.7 L357.1 280.7 L352.5 288.2 L347.9 280.7 L350.4 280.7 L350.4 271.2 Z" fill="#ee5a2a"/>
<path d="M342 290.7 L332.5 290.7 L332.5 293.2 L325 288.6 L332.5 284 L332.5 286.5 L342 286.5 Z" fill="#ee5a2a"/>
<path d="M476 204.9 L485.5 204.9 L485.5 202.4 L493 207 L485.5 211.6 L485.5 209.1 L476 209.1 Z" fill="#ee5a2a"/>
<path d="M498.1 216.1 L498.1 225.6 L500.6 225.6 L496 233.1 L491.4 225.6 L493.9 225.6 L493.9 216.1 Z" fill="#ee5a2a"/>
<path d="M498.1 271.2 L498.1 280.7 L500.6 280.7 L496 288.2 L491.4 280.7 L493.9 280.7 L493.9 271.2 Z" fill="#ee5a2a"/>
<path d="M485.4 290.7 L475.9 290.7 L475.9 293.2 L468.4 288.6 L475.9 284 L475.9 286.5 L485.4 286.5 Z" fill="#ee5a2a"/>
<path d="M619.3 204.9 L628.8 204.9 L628.8 202.4 L636.3 207 L628.8 211.6 L628.8 209.1 L619.3 209.1 Z" fill="#ee5a2a"/>
<path d="M640.8 216.1 L640.8 225.6 L643.3 225.6 L638.7 233.1 L634.1 225.6 L636.6 225.6 L636.6 216.1 Z" fill="#ee5a2a"/>
<path d="M640.9 271.2 L640.9 280.7 L643.4 280.7 L638.8 288.2 L634.2 280.7 L636.7 280.7 L636.7 271.2 Z" fill="#ee5a2a"/>
<path d="M627.2 290.7 L617.7 290.7 L617.7 293.2 L610.2 288.6 L617.7 284 L617.7 286.5 L627.2 286.5 Z" fill="#ee5a2a"/>
<path d="M316.8 303.5 L316.8 313 L319.3 313 L314.7 320.5 L310.1 313 L312.6 313 L312.6 303.5 Z" fill="#ee5a2a"/>
<path d="M286.9 390.1 L286.9 399.6 L289.4 399.6 L284.8 407.1 L280.2 399.6 L282.7 399.6 L282.7 390.1 Z" fill="#ee5a2a"/>
<path d="M257.7 284.5 L257.7 275 L255.2 275 L259.8 267.5 L264.4 275 L261.9 275 L261.9 284.5 Z" fill="#ee5a2a"/>
<path d="M257.7 354.5 L257.7 345 L255.2 345 L259.8 337.5 L264.4 345 L261.9 345 L261.9 354.5 Z" fill="#ee5a2a"/>
<path d="M235.1 412.5 L235.1 403 L232.6 403 L237.2 395.5 L241.8 403 L239.3 403 L239.3 412.5 Z" fill="#ee5a2a"/>
<path d="M276.5 442.1 L267 442.1 L267 444.6 L259.5 440 L267 435.4 L267 437.9 L276.5 437.9 Z" fill="#ee5a2a"/>
<g stroke="#2d7050" stroke-width="1.6" fill="none" stroke-linecap="round"><path d="M379.6 116.5 L369.6 103.5"/><path d="M379.6 116.5 L390.6 103.5"/><path d="M379.6 146.5 L358.6 127.5"/><path d="M379.6 146.5 L399.6 127.5"/></g><path d="M379.1 71.5 Q378.93 66.67 373.6 63.5 Q374.65 69.61 379.1 71.5 Z" fill="#7dd07e"/><path d="M380.1 71.5 Q379.72 66.87 384.6 63.5 Q384.26 69.41 380.1 71.5 Z" fill="#7dd07e"/><path d="M378.1 71 Q361.61 56.55 345.6 76.5 Q364.72 74.89 378.1 71 Z" fill="#68c36b"/><path d="M381.1 71 Q398.97 57.28 415.6 78 Q395.27 75.51 381.1 71 Z" fill="#68c36b"/><path d="M378.6 72.5 Q366.94 74.34 362.1 88.5 Q375.01 82.67 378.6 72.5 Z" fill="#52b159"/><path d="M378.6 72.5 Q366.94 74.34 362.1 88.5 Z" fill="#68c36b"/><path d="M380.6 72.5 Q392.12 75.71 395.6 90.5 Q383.21 83.13 380.6 72.5 Z" fill="#52b159"/><path d="M380.6 72.5 Q392.12 75.71 395.6 90.5 Z" fill="#68c36b"/><path d="M368.6 103.5 Q360.55 82.48 335.6 91.5 Q353.37 102.22 368.6 103.5 Z" fill="#52b159"/><path d="M368.6 103.5 Q360.55 82.48 335.6 91.5 Z" fill="#68c36b"/><path d="M368.6 103.5 Q357.25 100.71 348.6 112.5 Q362.66 112.75 368.6 103.5 Z" fill="#52b159"/><path d="M368.6 103.5 Q357.25 100.71 348.6 112.5 Z" fill="#7dd07e"/><path d="M390.6 103.5 Q399.22 82.43 424.6 91.5 Q406.21 102.23 390.6 103.5 Z" fill="#52b159"/><path d="M390.6 103.5 Q399.22 82.43 424.6 91.5 Z" fill="#68c36b"/><path d="M390.6 103.5 Q401.95 100.71 410.6 112.5 Q396.54 112.75 390.6 103.5 Z" fill="#52b159"/><path d="M390.6 103.5 Q401.95 100.71 410.6 112.5 Z" fill="#7dd07e"/><path d="M368.6 103.5 Q370.78 100.39 368.1 96.5 Q366 100.73 368.6 103.5 Z" fill="#68c36b"/><path d="M390.6 103.5 Q388.64 100.22 391.6 96.5 Q393.4 100.9 390.6 103.5 Z" fill="#68c36b"/><path d="M359.6 127.5 Q347.87 107.36 322.6 119 Q343.16 127.83 359.6 127.5 Z" fill="#52b159"/><path d="M359.6 127.5 Q347.87 107.36 322.6 119 Z" fill="#68c36b"/><path d="M359.6 127.5 Q346.72 125.89 336.6 139 Q352.62 137.7 359.6 127.5 Z" fill="#52b159"/><path d="M359.6 127.5 Q346.72 125.89 336.6 139 Z" fill="#7dd07e"/><path d="M399.6 127.5 Q410.6 107.23 435.6 118.5 Q415.69 127.6 399.6 127.5 Z" fill="#52b159"/><path d="M399.6 127.5 Q410.6 107.23 435.6 118.5 Z" fill="#68c36b"/><path d="M399.6 127.5 Q411.88 126.01 420.6 139 Q405.54 137.59 399.6 127.5 Z" fill="#52b159"/><path d="M399.6 127.5 Q411.88 126.01 420.6 139 Z" fill="#7dd07e"/><path d="M359.6 127.5 Q361.56 124.22 358.6 120.5 Q356.8 124.9 359.6 127.5 Z" fill="#68c36b"/><path d="M399.6 127.5 Q397.64 124.22 400.6 120.5 Q402.4 124.9 399.6 127.5 Z" fill="#68c36b"/><rect x="378.20000000000005" y="70.5" width="2.8" height="99.5" fill="#1c7a3e"/>
<g stroke="#2d7050" stroke-width="1.6" fill="none" stroke-linecap="round"><path d="M522.6 117.5 L512.6 104.5"/><path d="M522.6 117.5 L533.6 104.5"/><path d="M522.6 147.5 L501.6 128.5"/><path d="M522.6 147.5 L542.6 128.5"/></g><path d="M522.1 72.5 Q521.93 67.67 516.6 64.5 Q517.65 70.61 522.1 72.5 Z" fill="#7dd07e"/><path d="M523.1 72.5 Q522.72 67.87 527.6 64.5 Q527.26 70.41 523.1 72.5 Z" fill="#7dd07e"/><path d="M521.1 72 Q504.61 57.55 488.6 77.5 Q507.72 75.89 521.1 72 Z" fill="#68c36b"/><path d="M524.1 72 Q541.97 58.28 558.6 79 Q538.27 76.51 524.1 72 Z" fill="#68c36b"/><path d="M521.6 73.5 Q509.94 75.34 505.1 89.5 Q518.01 83.67 521.6 73.5 Z" fill="#52b159"/><path d="M521.6 73.5 Q509.94 75.34 505.1 89.5 Z" fill="#68c36b"/><path d="M523.6 73.5 Q535.12 76.71 538.6 91.5 Q526.21 84.13 523.6 73.5 Z" fill="#52b159"/><path d="M523.6 73.5 Q535.12 76.71 538.6 91.5 Z" fill="#68c36b"/><path d="M511.6 104.5 Q503.55 83.48 478.6 92.5 Q496.37 103.22 511.6 104.5 Z" fill="#52b159"/><path d="M511.6 104.5 Q503.55 83.48 478.6 92.5 Z" fill="#68c36b"/><path d="M511.6 104.5 Q500.25 101.71 491.6 113.5 Q505.66 113.75 511.6 104.5 Z" fill="#52b159"/><path d="M511.6 104.5 Q500.25 101.71 491.6 113.5 Z" fill="#7dd07e"/><path d="M533.6 104.5 Q542.22 83.43 567.6 92.5 Q549.21 103.23 533.6 104.5 Z" fill="#52b159"/><path d="M533.6 104.5 Q542.22 83.43 567.6 92.5 Z" fill="#68c36b"/><path d="M533.6 104.5 Q544.95 101.71 553.6 113.5 Q539.54 113.75 533.6 104.5 Z" fill="#52b159"/><path d="M533.6 104.5 Q544.95 101.71 553.6 113.5 Z" fill="#7dd07e"/><path d="M511.6 104.5 Q513.78 101.39 511.1 97.5 Q509 101.73 511.6 104.5 Z" fill="#68c36b"/><path d="M533.6 104.5 Q531.64 101.22 534.6 97.5 Q536.4 101.9 533.6 104.5 Z" fill="#68c36b"/><path d="M502.6 128.5 Q490.87 108.36 465.6 120 Q486.16 128.83 502.6 128.5 Z" fill="#52b159"/><path d="M502.6 128.5 Q490.87 108.36 465.6 120 Z" fill="#68c36b"/><path d="M502.6 128.5 Q489.72 126.89 479.6 140 Q495.62 138.7 502.6 128.5 Z" fill="#52b159"/><path d="M502.6 128.5 Q489.72 126.89 479.6 140 Z" fill="#7dd07e"/><path d="M542.6 128.5 Q553.6 108.23 578.6 119.5 Q558.69 128.6 542.6 128.5 Z" fill="#52b159"/><path d="M542.6 128.5 Q553.6 108.23 578.6 119.5 Z" fill="#68c36b"/><path d="M542.6 128.5 Q554.88 127.01 563.6 140 Q548.54 138.59 542.6 128.5 Z" fill="#52b159"/><path d="M542.6 128.5 Q554.88 127.01 563.6 140 Z" fill="#7dd07e"/><path d="M502.6 128.5 Q504.56 125.22 501.6 121.5 Q499.8 125.9 502.6 128.5 Z" fill="#68c36b"/><path d="M542.6 128.5 Q540.64 125.22 543.6 121.5 Q545.4 125.9 542.6 128.5 Z" fill="#68c36b"/><rect x="521.2" y="71.5" width="2.8" height="98.5" fill="#1c7a3e"/>
<g stroke="#2d7050" stroke-width="1.6" fill="none" stroke-linecap="round"><path d="M663.8 116.5 L653.8 103.5"/><path d="M663.8 116.5 L674.8 103.5"/><path d="M663.8 146.5 L642.8 127.5"/><path d="M663.8 146.5 L683.8 127.5"/></g><path d="M663.3 71.5 Q663.13 66.67 657.8 63.5 Q658.85 69.61 663.3 71.5 Z" fill="#7dd07e"/><path d="M664.3 71.5 Q663.92 66.87 668.8 63.5 Q668.46 69.41 664.3 71.5 Z" fill="#7dd07e"/><path d="M662.3 71 Q645.81 56.55 629.8 76.5 Q648.92 74.89 662.3 71 Z" fill="#68c36b"/><path d="M665.3 71 Q683.17 57.28 699.8 78 Q679.47 75.51 665.3 71 Z" fill="#68c36b"/><path d="M662.8 72.5 Q651.14 74.34 646.3 88.5 Q659.21 82.67 662.8 72.5 Z" fill="#52b159"/><path d="M662.8 72.5 Q651.14 74.34 646.3 88.5 Z" fill="#68c36b"/><path d="M664.8 72.5 Q676.32 75.71 679.8 90.5 Q667.41 83.13 664.8 72.5 Z" fill="#52b159"/><path d="M664.8 72.5 Q676.32 75.71 679.8 90.5 Z" fill="#68c36b"/><path d="M652.8 103.5 Q644.75 82.48 619.8 91.5 Q637.57 102.22 652.8 103.5 Z" fill="#52b159"/><path d="M652.8 103.5 Q644.75 82.48 619.8 91.5 Z" fill="#68c36b"/><path d="M652.8 103.5 Q641.45 100.71 632.8 112.5 Q646.86 112.75 652.8 103.5 Z" fill="#52b159"/><path d="M652.8 103.5 Q641.45 100.71 632.8 112.5 Z" fill="#7dd07e"/><path d="M674.8 103.5 Q683.42 82.43 708.8 91.5 Q690.41 102.23 674.8 103.5 Z" fill="#52b159"/><path d="M674.8 103.5 Q683.42 82.43 708.8 91.5 Z" fill="#68c36b"/><path d="M674.8 103.5 Q686.15 100.71 694.8 112.5 Q680.74 112.75 674.8 103.5 Z" fill="#52b159"/><path d="M674.8 103.5 Q686.15 100.71 694.8 112.5 Z" fill="#7dd07e"/><path d="M652.8 103.5 Q654.98 100.39 652.3 96.5 Q650.2 100.73 652.8 103.5 Z" fill="#68c36b"/><path d="M674.8 103.5 Q672.84 100.22 675.8 96.5 Q677.6 100.9 674.8 103.5 Z" fill="#68c36b"/><path d="M643.8 127.5 Q632.07 107.36 606.8 119 Q627.36 127.83 643.8 127.5 Z" fill="#52b159"/><path d="M643.8 127.5 Q632.07 107.36 606.8 119 Z" fill="#68c36b"/><path d="M643.8 127.5 Q630.92 125.89 620.8 139 Q636.82 137.7 643.8 127.5 Z" fill="#52b159"/><path d="M643.8 127.5 Q630.92 125.89 620.8 139 Z" fill="#7dd07e"/><path d="M683.8 127.5 Q694.8 107.23 719.8 118.5 Q699.89 127.6 683.8 127.5 Z" fill="#52b159"/><path d="M683.8 127.5 Q694.8 107.23 719.8 118.5 Z" fill="#68c36b"/><path d="M683.8 127.5 Q696.08 126.01 704.8 139 Q689.74 137.59 683.8 127.5 Z" fill="#52b159"/><path d="M683.8 127.5 Q696.08 126.01 704.8 139 Z" fill="#7dd07e"/><path d="M643.8 127.5 Q645.76 124.22 642.8 120.5 Q641 124.9 643.8 127.5 Z" fill="#68c36b"/><path d="M683.8 127.5 Q681.84 124.22 684.8 120.5 Q686.6 124.9 683.8 127.5 Z" fill="#68c36b"/><rect x="662.4" y="70.5" width="2.8" height="99.5" fill="#1c7a3e"/>
<text x="182.3" y="233.4" textLength="60.8" lengthAdjust="spacingAndGlyphs">drip line</text>
<text x="141.2" y="265.4" textLength="101.4" lengthAdjust="spacingAndGlyphs">plastic tubing</text>
<text x="169.6" y="304.5" textLength="71.6" lengthAdjust="spacingAndGlyphs">low point</text>
<text x="183.8" y="318.9" textLength="57.2" lengthAdjust="spacingAndGlyphs">of table</text>
<text x="177.7" y="333.7" textLength="63.3" lengthAdjust="spacingAndGlyphs">for drain</text>
<text x="293.7" y="363.0" textLength="70.3" lengthAdjust="spacingAndGlyphs">drain line</text>
<text x="22.8" y="409.2" textLength="66.7" lengthAdjust="spacingAndGlyphs">air pump</text>
<text x="123.0" y="423.1" textLength="64.5" lengthAdjust="spacingAndGlyphs">air stone</text>
<text x="240.7" y="427.0" textLength="91.8" lengthAdjust="spacingAndGlyphs">water pump</text>
<text x="430.1" y="156.3" textLength="60.9" lengthAdjust="spacingAndGlyphs">drip line</text>
<text x="430.1" y="171.0" textLength="53.8" lengthAdjust="spacingAndGlyphs">emitter</text>
<text x="690.3" y="176.3" textLength="73" lengthAdjust="spacingAndGlyphs">rockwool</text>
<text x="690.3" y="190.5" textLength="37.5" lengthAdjust="spacingAndGlyphs">cube</text>
<text x="690.3" y="245.3" textLength="84.7" lengthAdjust="spacingAndGlyphs">clay pellets</text>
<text x="586.2" y="317.1" textLength="71.8" lengthAdjust="spacingAndGlyphs">grow tray</text>
</svg></body></html>
